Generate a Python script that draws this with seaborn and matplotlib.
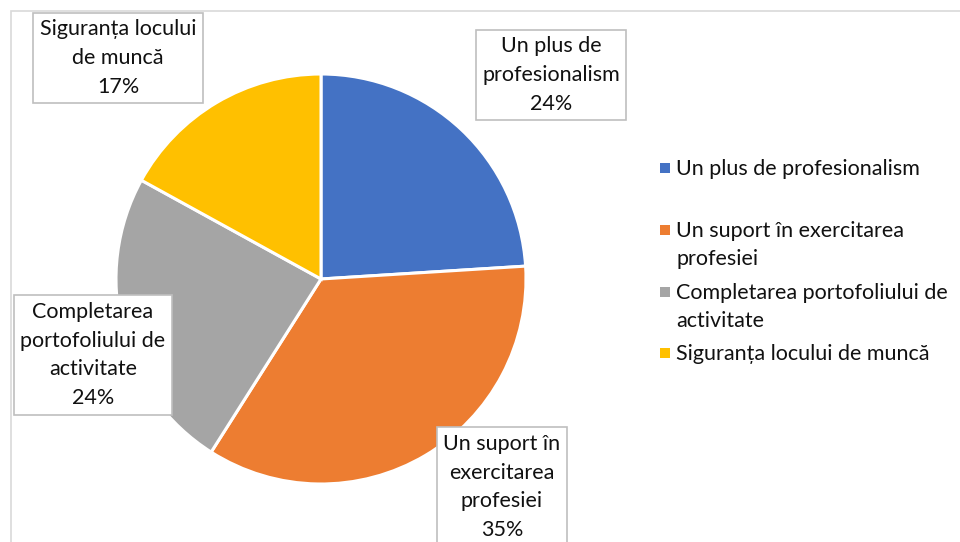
"""
plot.py
Diagramă circulară - motivația pentru formare (recreare în seaborn/matplotlib).
"""

import matplotlib
matplotlib.use("Agg")
import matplotlib.pyplot as plt
from matplotlib.patches import Rectangle
import seaborn as sns

# ---------------------------------------------------------------------------
# DATE
# ---------------------------------------------------------------------------

categorii = [
    "Un plus de profesionalism",
    "Un suport în exercitarea profesiei",
    "Completarea portofoliului de activitate",
    "Siguranța locului de muncă",
]
procente = [24, 35, 24, 17]

# etichetele din casete (rupte pe rânduri ca în original)
etichete_casete = [
    "Un plus de\nprofesionalism",
    "Un suport în\nexercitarea\nprofesiei",
    "Completarea\nportofoliului de\nactivitate",
    "Siguranța locului\nde muncă",
]
etichete_legenda = [
    "Un plus de profesionalism",
    "Un suport în exercitarea\nprofesiei",
    "Completarea portofoliului de\nactivitate",
    "Siguranța locului de muncă",
]
culori = ["#4472C4", "#ED7D31", "#A5A5A5", "#FFC000"]

# ---------------------------------------------------------------------------
# STIL
# ---------------------------------------------------------------------------

sns.set_theme(style="white")
plt.rcParams["font.family"] = ["Lato", "DejaVu Sans"]

W, H = 960, 542
fig = plt.figure(figsize=(W / 100, H / 100), dpi=100, facecolor="white")
# axă în coordonate pixel (y în sus)
ax = fig.add_axes([0, 0, 1, 1])

# ---------------------------------------------------------------------------
# PLĂCINTA
# ---------------------------------------------------------------------------

centru = (321, H - 279)
wedges, _ = ax.pie(
    procente,
    colors=culori,
    startangle=90,
    counterclock=False,
    center=centru,
    radius=205,
    wedgeprops=dict(edgecolor="white", linewidth=2.2),
    frame=True,
)
ax.set_xlim(0, W)
ax.set_ylim(0, H)
ax.set_axis_off()

# chenarul zonei graficului
ax.add_patch(Rectangle((11, -10), W, H - 11 + 10, fill=False,
                       ec="#D9D9D9", lw=1.2, zorder=0))

# poziţiile casetelor (centru, pixeli)
pozitii_casete = [(551, 75), (502, 487), (93, 355), (118, 58)]

for (x, y), txt, p in zip(pozitii_casete, etichete_casete, procente):
    ax.text(
        x, H - y, f"{txt}\n{p}%",
        ha="center", va="center", fontsize=15.5, color="#111111",
        linespacing=1.55,
        bbox=dict(boxstyle="square,pad=0.3", fc="white", ec="#BFBFBF", lw=1.2),
        zorder=5,
    )

# ---------------------------------------------------------------------------
# LEGENDA
# ---------------------------------------------------------------------------

legenda_y = [168, 230, 292, 353]
for y, txt, c in zip(legenda_y, etichete_legenda, culori):
    ax.add_patch(Rectangle((660, H - y - 5), 10, 10, fc=c, ec="none"))
    ax.text(676, H - y + 9, txt, ha="left", va="top", fontsize=15.5,
            color="#111111", linespacing=1.5)

fig.savefig("out.png", dpi=100, facecolor="white")
